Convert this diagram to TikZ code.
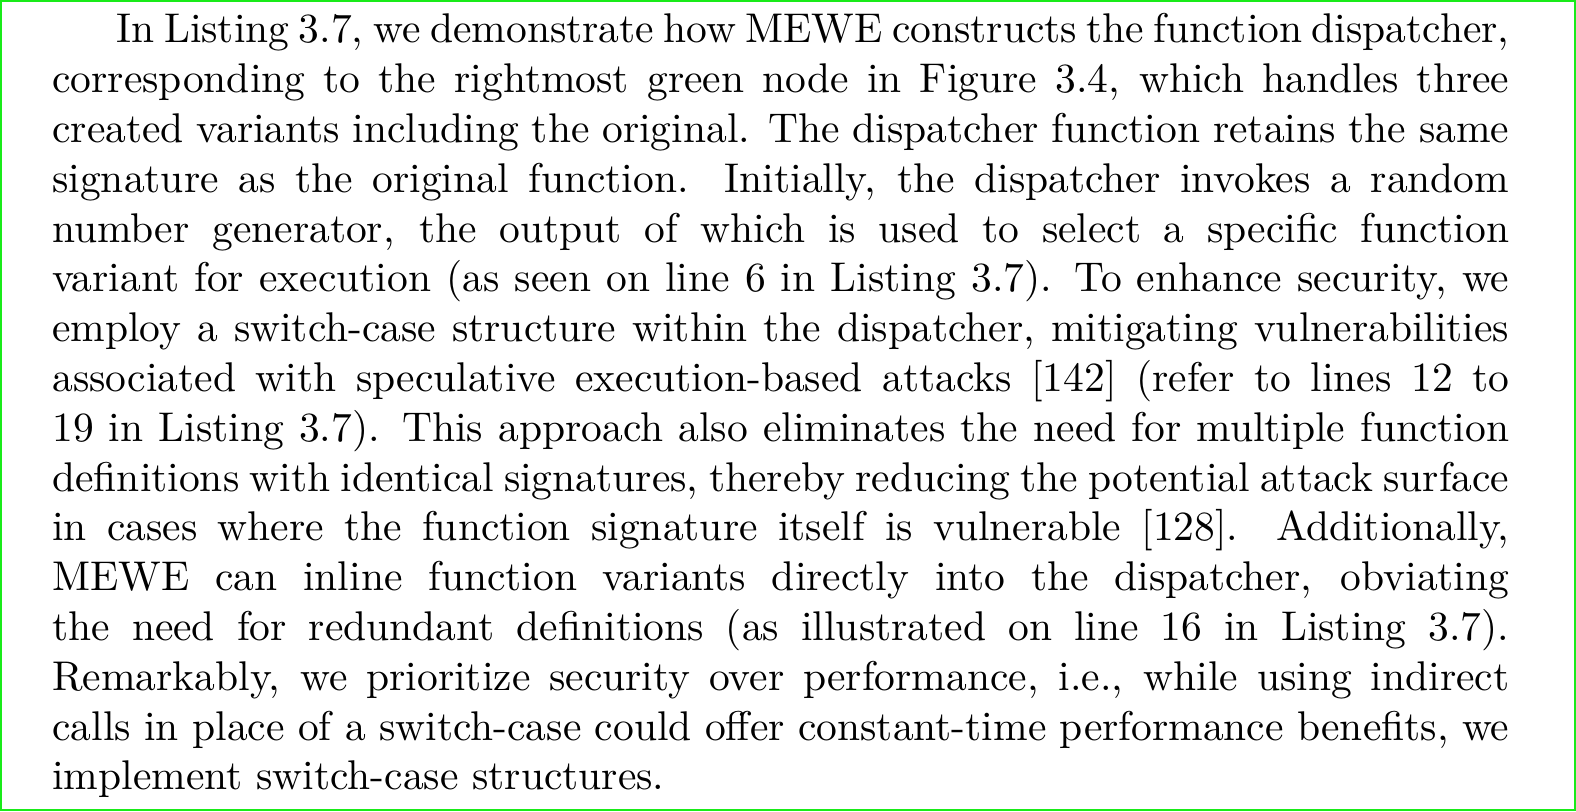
\documentclass[tikz,border=0pt]{standalone}
\usepackage{tikz}
\definecolor{framegreen}{RGB}{25,235,25}
\tikzset{
  px/.style={x=0.24090pt,y=-0.24090pt},
  frame/.style={draw=framegreen, line width=0.5pt},
  para/.style={anchor=base west, inner sep=0pt, text width=351pt, align=justify,
    font=\fontsize{10}{12}\selectfont}
}
\begin{document}
\begin{tikzpicture}[px]
\useasboundingbox (0,0) rectangle (1576,812);
\draw[frame] (1,1) rectangle (1575,810);
\node[para] (body) at (51.5,42.8) {\hspace*{15.5pt}In Listing 3.7, we demonstrate how MEWE constructs the function dispatcher,\linebreak
corresponding to the rightmost green node in Figure 3.4, which handles three\linebreak
created variants including the original. The dispatcher function retains the same\linebreak
signature as the original function. Initially, the dispatcher invokes a random\linebreak
number generator, the output of which is used to select a specific function\linebreak
variant for execution (as seen on line 6 in Listing 3.7). To enhance security, we\linebreak
employ a switch-case structure within the dispatcher, mitigating vulnerabilities\linebreak
associated with speculative execution-based attacks [142] (refer to lines 12 to\linebreak
19 in Listing 3.7). This approach also eliminates the need for multiple function\linebreak
definitions with identical signatures, thereby reducing the potential attack surface\linebreak
in cases where the function signature itself is vulnerable [128]. Additionally,\linebreak
MEWE can inline function variants directly into the dispatcher, obviating\linebreak
the need for redundant definitions (as illustrated on line 16 in Listing 3.7).\linebreak
Remarkably, we prioritize security over performance, i.e., while using indirect\linebreak
calls in place of a switch-case could offer constant-time performance benefits, we\linebreak
implement switch-case structures.};
\end{tikzpicture}
\end{document}
